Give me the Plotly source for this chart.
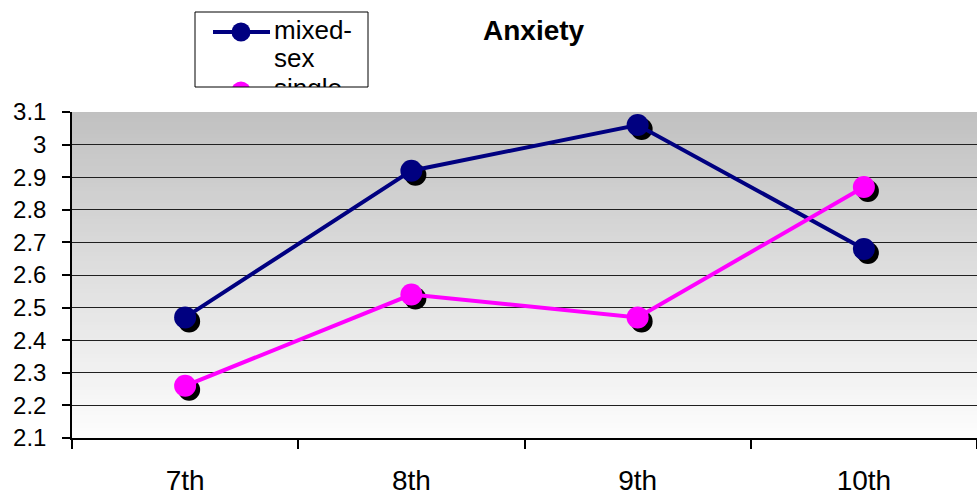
import plotly.graph_objects as go

# ==============================
# data
# ==============================
grades = ["7th", "8th", "9th", "10th"]
mixed_sex = [2.47, 2.92, 3.06, 2.68]
single_sex = [2.26, 2.54, 2.47, 2.87]
series_names = ["mixed-sex", "single-sex"]

y_ticks = [2.1, 2.2, 2.3, 2.4, 2.5, 2.6, 2.7, 2.8, 2.9, 3.0, 3.1]
y_tick_labels = ["2.1", "2.2", "2.3", "2.4", "2.5", "2.6", "2.7", "2.8", "2.9", "3", "3.1"]

W, H = 977, 495
NAVY = "#000080"
PINK = "#FF00FF"
FONT = "Liberation Sans, Arial, sans-serif"

# plot area in pixels (excel-like)
left, right, top, bottom = 72, 977, 112, 438
x_dom = [left / W, right / W]
y_dom = [(H - bottom) / H, (H - top) / H]

# shadow offset (px) -> converted to axis units
shadow_px = 4
cat_px = (right - left) / len(grades)
dx = shadow_px / cat_px
dy = shadow_px / (bottom - top) * (y_ticks[-1] - y_ticks[0])

fig = go.Figure()

# --- marker shadows (base axes, shifted range -> drawn underneath)
for vals in [mixed_sex, single_sex]:
    fig.add_trace(go.Scatter(
        x=grades, y=vals, mode="markers", xaxis="x", yaxis="y",
        marker=dict(size=22, color="black"), hoverinfo="skip", showlegend=False
    ))

# --- main series (visible axes overlay the base ones)
for vals, col, name in [(mixed_sex, NAVY, series_names[0]), (single_sex, PINK, series_names[1])]:
    fig.add_trace(go.Scatter(
        x=grades, y=vals, mode="lines+markers", name=name, xaxis="x2", yaxis="y2",
        line=dict(color=col, width=4),
        marker=dict(size=22, color=col), showlegend=False
    ))

# ==============================
# hand made legend box (clipped like the original)
# ==============================
lg_left, lg_right, lg_top, lg_bottom = 195, 368, 12, 87
fig.add_trace(go.Scatter(
    x=[213, 270], y=[32, 32], mode="lines", xaxis="x3", yaxis="y3",
    line=dict(color=NAVY, width=4), hoverinfo="skip", showlegend=False
))
fig.add_trace(go.Scatter(
    x=[241], y=[32], mode="markers", xaxis="x3", yaxis="y3",
    marker=dict(size=19, color=NAVY), hoverinfo="skip", showlegend=False
))
fig.add_trace(go.Scatter(
    x=[241], y=[91], mode="markers", xaxis="x3", yaxis="y3",
    marker=dict(size=19, color=PINK), hoverinfo="skip", showlegend=False
))
fig.add_trace(go.Scatter(
    x=[274, 274, 274], y=[32, 60, 90], mode="text", xaxis="x3", yaxis="y3",
    text=["mixed-", "sex", "single"], textposition="middle right",
    textfont=dict(family=FONT, size=26, color="black"),
    hoverinfo="skip", showlegend=False, cliponaxis=True
))

# ==============================
# gradient background of the plot area
# ==============================
shapes = []
n = 80
band = (y_dom[1] - y_dom[0]) / n
for i in range(n):
    g = int(round(192 + (253 - 192) * (i + 0.5) / n))
    y_hi = y_dom[1] - band * i
    y_lo = y_dom[1] - band * (i + 1)
    shapes.append(dict(
        type="rect", xref="paper", yref="paper",
        x0=x_dom[0], x1=x_dom[1], y0=y_lo, y1=min(y_dom[1], y_hi + band * 0.6),
        fillcolor=f"rgb({g},{g},{g})", line=dict(width=0), layer="below"
    ))
# legend border
shapes.append(dict(
    type="rect", xref="paper", yref="paper",
    x0=lg_left / W, x1=lg_right / W, y0=(H - lg_bottom) / H, y1=(H - lg_top) / H,
    line=dict(color="black", width=1), fillcolor="rgba(0,0,0,0)", layer="above"
))

fig.update_layout(
    width=W, height=H,
    margin=dict(l=0, r=0, t=0, b=0, pad=0, autoexpand=False),
    paper_bgcolor="white",
    plot_bgcolor="rgba(0,0,0,0)",
    font=dict(family=FONT, size=24, color="black"),
    shapes=shapes,
    showlegend=False,
    # base axes: invisible, shifted -> shadows
    xaxis=dict(
        domain=x_dom, type="category", categoryorder="array",
        categoryarray=grades, range=[-0.5 - dx, len(grades) - 0.5 - dx], visible=False,
    ),
    yaxis=dict(
        domain=y_dom, range=[y_ticks[0] + dy, y_ticks[-1] + dy], visible=False,
    ),
    # visible axes
    xaxis2=dict(
        domain=x_dom, overlaying="x", anchor="y2", side="bottom",
        type="category", categoryorder="array", categoryarray=grades,
        range=[-0.5, len(grades) - 0.5],
        showgrid=False, zeroline=False,
        showline=True, linecolor="black", linewidth=1.5,
        ticks="outside", tickson="boundaries", ticklen=9, tickcolor="black", tickwidth=1.5,
        tickfont=dict(size=28), ticklabelstandoff=17,
    ),
    yaxis2=dict(
        domain=y_dom, overlaying="y", anchor="x2", side="left",
        range=[y_ticks[0], y_ticks[-1]],
        tickvals=y_ticks, ticktext=y_tick_labels,
        showgrid=True, gridcolor="#202020", gridwidth=1, zeroline=False,
        showline=True, linecolor="black", linewidth=1.5,
        ticks="outside", ticklen=8, tickcolor="black", tickwidth=1.5,
        tickfont=dict(size=24), ticklabelstandoff=11,
    ),
    xaxis3=dict(
        domain=[lg_left / W, lg_right / W], range=[lg_left, lg_right],
        visible=False, fixedrange=True, anchor="y3",
    ),
    yaxis3=dict(
        domain=[(H - lg_bottom) / H, (H - lg_top) / H], range=[lg_bottom, lg_top],
        visible=False, fixedrange=True, anchor="x3",
    ),
    annotations=[dict(
        text="<b>Anxiety</b>", x=534 / W, y=(H - 31) / H, xref="paper", yref="paper",
        showarrow=False, font=dict(size=28, color="black"), xanchor="center", yanchor="middle"
    )],
)

fig.write_html("out.html", config={"displayModeBar": False},
               post_script="document.body.style.margin='0';")
